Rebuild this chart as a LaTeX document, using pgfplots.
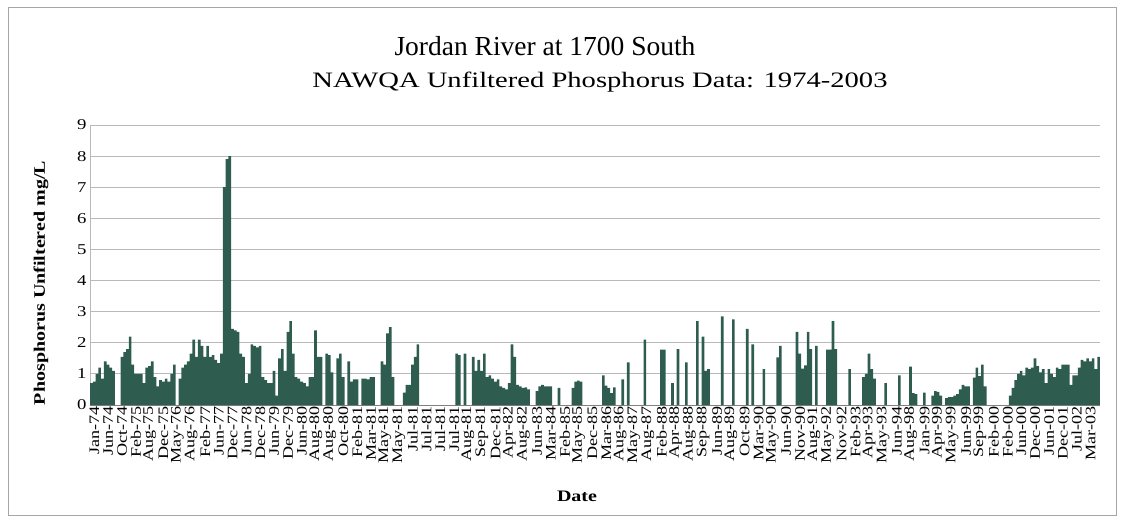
\documentclass[border=0pt]{standalone}
\usepackage{pgfplots}
\pgfplotsset{compat=1.18}
\usepackage{fontspec}
\setmainfont{Liberation Serif}[FakeStretch=1.25]
\newfontfamily\titlefont{Liberation Serif}
\newfontfamily\subfont{Liberation Serif}[FakeStretch=1.3]
\definecolor{barc}{RGB}{46,92,78}
\definecolor{gridc}{RGB}{185,185,185}
\begin{document}
\begin{tikzpicture}[x=1pt,y=1pt]
\path[use as bounding box] (0,0) rectangle (1124,523);
\draw[gray!70,line width=1pt] (8,8) rectangle (1116,515);
\node[font=\titlefont\fontsize{27.5}{30}\selectfont] at (545,477) {Jordan River at 1700 South};
\node[font=\subfont\fontsize{22}{24}\selectfont] at (600,441) {NAWQA Unfiltered Phosphorus Data: 1974-2003};
\node[font=\fontsize{16}{18}\selectfont\bfseries,rotate=90] at (41,240) {Phosphorus Unfiltered mg/L};
\node[font=\fontsize{16}{18}\selectfont\bfseries] at (577,27) {Date};
\begin{axis}[
  at={(90pt,118pt)}, anchor=south west,
  scale only axis, width=1010pt, height=280pt,
  xmin=-0.5, xmax=364.5, ymin=0, ymax=9,
  ytick={0,1,...,9},
  xtick={0,5,...,360},
  xticklabels={Jan-74,Jun-74,Oct-74,Feb-75,Aug-75,Dec-75,May-76,Aug-76,Feb-77,Jun-77,Dec-77,Jun-78,Dec-78,Jun-79,Dec-79,Jun-80,Aug-80,Aug-80,Oct-80,Feb-81,Mar-81,May-81,May-81,Jul-81,Jul-81,Jul-81,Jul-81,Aug-81,Sep-81,Dec-81,Apr-82,Aug-82,Jun-83,Mar-84,Feb-85,May-85,Dec-85,Mar-86,Aug-86,May-87,Aug-87,Feb-88,Apr-88,Aug-88,Sep-88,Jun-89,Aug-89,Oct-89,Mar-90,May-90,Jun-90,Nov-90,Aug-91,May-92,Nov-92,Feb-93,Apr-93,May-93,Jun-94,Aug-98,Jan-99,Apr-99,May-99,Jun-99,Sep-99,Feb-00,Feb-00,Jun-00,Dec-00,Jun-01,Dec-01,Jul-02,Mar-03},
  x tick label style={rotate=90, anchor=east, font=\fontsize{14.5}{14.5}\selectfont, inner sep=1pt, yshift=-3pt},
  y tick label style={font=\fontsize{15}{15}\selectfont},
  /pgf/number format/assume math mode=true,
  major tick length=0pt,
  ymajorgrids, grid style={gridc, line width=0.8pt},
  axis line style={gridc, line width=0.8pt},
  axis x line*=bottom, axis y line*=left,
  x axis line style={gray, line width=1pt},
  clip=false,
]
\addplot[ybar, bar width=0.95, fill=barc, draw=none] coordinates {
(0,0.7)(1,0.75)(2,1.0)(3,1.2)(4,0.85)(5,1.4)(6,1.3)(7,1.2)(8,1.1)
(11,1.55)(12,1.7)(13,1.8)(14,2.2)(15,1.3)(16,1.0)(17,1.0)(18,1.0)(19,0.7)
(20,1.2)(21,1.25)(22,1.4)(23,0.9)(24,0.6)(25,0.8)(26,0.75)(27,0.85)(28,0.75)(29,1.0)(30,1.3)
(32,0.85)(33,1.2)(34,1.3)(35,1.4)(36,1.65)(37,2.1)(38,1.55)(39,2.1)(40,1.9)(41,1.55)(42,1.9)(43,1.55)
(44,1.6)(45,1.45)(46,1.35)(47,1.65)(48,7.0)(49,7.9)(50,8.0)(51,2.45)(52,2.4)(53,2.35)(54,1.65)(55,1.55)
(56,0.7)(57,1.0)(58,1.95)(59,1.9)(60,1.85)(61,1.9)(62,0.9)(63,0.8)(64,0.7)(65,0.7)(66,1.1)(67,0.3)
(68,1.5)(69,1.8)(70,1.1)(71,2.35)(72,2.7)(73,1.65)(74,0.9)(75,0.85)(76,0.75)(77,0.7)(78,0.6)(79,0.9)(80,0.9)
(81,2.4)(82,1.55)(83,1.55)(85,1.65)(86,1.6)(87,1.05)(89,1.5)(90,1.65)
(91,0.9)(93,1.4)(94,0.75)(95,0.82)(96,0.82)(98,0.85)(99,0.85)(100,0.82)(101,0.9)(102,0.9)
(105,1.4)(106,1.3)(107,2.3)(108,2.5)(109,0.9)
(113,0.4)(114,0.65)(115,0.65)(116,1.3)(117,1.55)(118,1.95)
(132,1.65)(133,1.6)(135,1.65)(138,1.55)(139,1.1)(140,1.45)(141,1.1)(142,1.65)(143,0.9)
(144,0.95)(145,0.85)(146,0.75)(147,0.82)(148,0.6)(149,0.55)(150,0.5)(151,0.7)(152,1.95)(153,1.55)
(154,0.65)(155,0.6)(156,0.55)(157,0.57)(158,0.5)
(161,0.45)(162,0.6)(163,0.65)(164,0.6)(165,0.6)(166,0.6)(169,0.55)
(174,0.55)(175,0.75)(176,0.78)(177,0.75)
(185,0.95)(186,0.62)(187,0.55)(188,0.38)(189,0.57)(192,0.82)(194,1.37)(200,2.1)(206,1.78)(207,1.78)
(210,0.7)(212,1.8)(215,1.37)(219,2.7)(221,2.2)(222,1.1)(223,1.15)(228,2.85)(232,2.75)(237,2.45)(239,1.95)
(243,1.15)(248,1.53)(249,1.9)(255,2.35)(256,1.65)(257,1.17)(258,1.27)(259,2.35)(260,1.8)(262,1.9)
(266,1.78)(267,1.78)(268,2.7)(269,1.8)(274,1.15)(279,0.9)(280,1.0)(281,1.65)(282,1.15)(283,0.85)
(287,0.7)(292,0.95)(296,1.23)(297,0.38)(298,0.35)(301,0.4)(304,0.3)(305,0.45)(306,0.42)(307,0.3)
(309,0.22)(310,0.25)(311,0.25)(312,0.3)(313,0.35)(314,0.5)(315,0.65)(316,0.6)(317,0.6)
(319,0.88)(320,1.2)(321,0.93)(322,1.3)(323,0.6)
(332,0.3)(333,0.55)(334,0.8)(335,1.0)(336,1.1)(337,0.95)(338,1.2)(339,1.15)(340,1.2)(341,1.5)(342,1.25)
(343,1.05)(344,1.15)(345,0.7)(346,1.15)(347,1.0)(348,0.9)(349,1.2)(350,1.15)(351,1.3)(352,1.3)(353,1.3)
(354,0.65)(355,0.95)(356,0.95)(357,1.2)(358,1.45)(359,1.4)(360,1.5)(361,1.4)(362,1.5)(363,1.15)(364,1.55)
};
\end{axis}
\end{tikzpicture}
\end{document}
